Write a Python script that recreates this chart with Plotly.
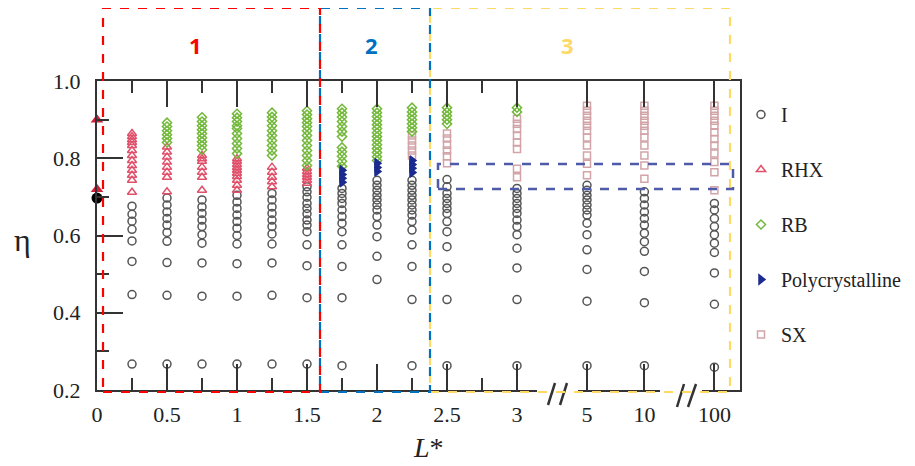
import plotly.graph_objects as go

# ---------------- data ----------------
# L* categories and their positions on the (broken) x axis
L_values = [0, 0.25, 0.5, 0.75, 1, 1.25, 1.5, 1.75, 2, 2.25, 2.5, 3, 5, 10, 100]
broken_pos = {5: 3.5, 10: 3.91, 100: 4.41}

x_tick_labels = ["0", "0.5", "1", "1.5", "2", "2.5", "3", "5", "10", "100"]
x_tick_L = [0, 0.5, 1, 1.5, 2, 2.5, 3, 5, 10, 100]
x_minor_L = [0.25, 0.75, 1.25, 1.75, 2.25, 2.75]
y_tick_vals = [0.2, 0.4, 0.6, 0.8, 1.0]
y_tick_labels = ["0.2", "0.4", "0.6", "0.8", "1.0"]
y_minor_vals = [0.3, 0.5, 0.7, 0.9]

I_eta = {
    0.25: [0.676, 0.655, 0.637, 0.616, 0.586, 0.533, 0.447, 0.267],
    0.5: [0.697, 0.679, 0.661, 0.644, 0.627, 0.608, 0.585, 0.530, 0.445, 0.267],
    0.75: [0.692, 0.674, 0.657, 0.640, 0.623, 0.602, 0.580, 0.529, 0.443, 0.267],
    1: [0.704, 0.687, 0.670, 0.653, 0.636, 0.619, 0.600, 0.578, 0.527, 0.443, 0.267],
    1.25: [0.709, 0.692, 0.674, 0.657, 0.640, 0.623, 0.604, 0.578, 0.529, 0.445, 0.267],
    1.5: [0.726, 0.713, 0.699, 0.683, 0.670, 0.656, 0.640, 0.627, 0.610, 0.576, 0.522, 0.439, 0.267],
    1.75: [0.722, 0.709, 0.696, 0.683, 0.666, 0.649, 0.632, 0.610, 0.576, 0.520, 0.439, 0.263],
    2: [0.743, 0.730, 0.717, 0.704, 0.692, 0.679, 0.666, 0.649, 0.627, 0.597, 0.546, 0.486],
    2.25: [0.743, 0.730, 0.717, 0.704, 0.692, 0.679, 0.666, 0.653, 0.636, 0.614, 0.576, 0.520, 0.434, 0.263],
    2.5: [0.745, 0.726, 0.709, 0.696, 0.683, 0.670, 0.657, 0.636, 0.610, 0.571, 0.516, 0.434, 0.263],
    3: [0.722, 0.709, 0.696, 0.683, 0.670, 0.657, 0.640, 0.623, 0.602, 0.567, 0.516, 0.434, 0.263],
    5: [0.730, 0.717, 0.704, 0.692, 0.679, 0.666, 0.653, 0.632, 0.602, 0.563, 0.512, 0.430, 0.263],
    10: [0.713, 0.696, 0.679, 0.661, 0.644, 0.627, 0.606, 0.584, 0.559, 0.507, 0.426, 0.263],
    100: [0.683, 0.666, 0.644, 0.623, 0.602, 0.580, 0.556, 0.503, 0.422, 0.259],
}

RHX_eta = {
    0.25: [0.864, 0.856, 0.848, 0.841, 0.833, 0.820, 0.807, 0.794, 0.781, 0.769, 0.756, 0.743, 0.712],
    0.5: [0.829, 0.816, 0.803, 0.790, 0.777, 0.764, 0.751, 0.713],
    0.75: [0.807, 0.799, 0.792, 0.777, 0.764, 0.751, 0.717],
    1: [0.799, 0.792, 0.784, 0.776, 0.769, 0.761, 0.753, 0.743, 0.730, 0.717],
    1.25: [0.777, 0.764, 0.751, 0.739, 0.726],
    1.5: [0.774, 0.766, 0.758, 0.751, 0.743, 0.735],
}

RB_eta = {
    0.5: [0.892, 0.882, 0.871, 0.861, 0.851, 0.841],
    0.75: [0.906, 0.895, 0.884, 0.874, 0.864, 0.853, 0.843, 0.833, 0.822],
    1: [0.915, 0.905, 0.895, 0.884, 0.877, 0.864, 0.851, 0.838, 0.825, 0.812],
    1.25: [0.918, 0.907, 0.897, 0.884, 0.871, 0.859, 0.846, 0.833, 0.820, 0.807],
    1.5: [0.923, 0.913, 0.902, 0.892, 0.882, 0.871, 0.859, 0.846, 0.833, 0.820, 0.807, 0.794, 0.781],
    1.75: [0.928, 0.918, 0.907, 0.895, 0.882, 0.869, 0.856, 0.828, 0.817, 0.805, 0.792, 0.779],
    2: [0.928, 0.918, 0.908, 0.897, 0.887, 0.877, 0.866, 0.856, 0.846, 0.835, 0.825, 0.815, 0.804, 0.794],
    2.25: [0.931, 0.920, 0.910, 0.900, 0.889, 0.879, 0.869],
    2.5: [0.931, 0.920, 0.910, 0.900, 0.889],
    3: [0.931, 0.920],
}

Poly_eta = {
    1.75: [0.769, 0.758, 0.748, 0.738],
    2: [0.787, 0.776, 0.766],
    2.25: [0.794, 0.784, 0.774, 0.763],
}

SX_eta = {
    2.25: [0.859, 0.846, 0.833, 0.820, 0.807],
    2.5: [0.864, 0.851, 0.835, 0.820, 0.805, 0.787],
    3: [0.902, 0.889, 0.876, 0.859, 0.841, 0.824, 0.773, 0.751],
    5: [0.936, 0.923, 0.910, 0.897, 0.884, 0.871, 0.854, 0.833, 0.807, 0.786, 0.756],
    10: [0.936, 0.923, 0.910, 0.897, 0.884, 0.871, 0.854, 0.833, 0.807, 0.781, 0.747],
    100: [0.936, 0.923, 0.910, 0.897, 0.884, 0.867, 0.850, 0.833, 0.812, 0.790, 0.764, 0.717],
}

# points sitting on the eta axis (L* = 0)
L0_RHX_eta = [0.90, 0.72]
L0_I_eta = [0.697]


# ---------------- helpers ----------------
def pos(L):
    return broken_pos.get(L, L)


def flatten(d):
    xs, ys = [], []
    for L, vals in d.items():
        for v in vals:
            xs.append(pos(L))
            ys.append(v)
    return xs, ys


# plot area in page pixels (for decorations only); page has an 8px body margin
OFF = 8
PL, PR, PT, PB = 97, 740, 81, 390
W, H = 915, 466


def fx(px):
    return (px - PL) / (PR - PL)


def fy(py):
    return (PB - py) / (PB - PT)


SERIF = "Liberation Serif, Times New Roman, Times, serif"

fig = go.Figure()

series = [
    ("I", I_eta, "circle-open", "#555555", 8, 1),
    ("RHX", RHX_eta, "triangle-up-open", "#E0506A", 8, 2),
    ("RB", RB_eta, "diamond-open", "#72B83A", 7, 3),
    ("Polycrystalline", Poly_eta, "triangle-right", "#1C2B8F", 8, 4),
    ("SX", SX_eta, "square-open", "#D2A4A8", 7, 5),
]
draw_order = [0, 4, 1, 2, 3]
for i in draw_order:
    name, d, sym, col, sz, rank = series[i]
    xs, ys = flatten(d)
    fig.add_trace(go.Scatter(
        x=xs, y=ys, mode="markers", name=name, legendgroup=name, legendrank=rank,
        marker=dict(symbol=sym, size=sz, color=col, line=dict(color=col, width=1.5)),
        cliponaxis=False,
    ))

fig.add_trace(go.Scatter(
    x=[pos(0)] * len(L0_RHX_eta), y=L0_RHX_eta, mode="markers", showlegend=False,
    marker=dict(symbol="triangle-up", size=11, color="#D0203A"), cliponaxis=False))
fig.add_trace(go.Scatter(
    x=[pos(0)] * len(L0_I_eta), y=L0_I_eta, mode="markers", showlegend=False,
    marker=dict(symbol="circle", size=11, color="#000000"), cliponaxis=False))

AXC = "#333333"
fig.update_xaxes(
    range=[0, (PR - PL) / 140.0],
    tickmode="array", tickvals=[pos(v) for v in x_tick_L], ticktext=x_tick_labels,
    ticks="inside", ticklen=26, tickwidth=2, tickcolor=AXC,
    minor=dict(tickmode="array", tickvals=[pos(v) for v in x_minor_L], ticks="inside",
               ticklen=12, tickwidth=2, tickcolor=AXC, showgrid=False),
    showline=True, linecolor=AXC, linewidth=2, mirror="ticks",
    showgrid=False, zeroline=False,
    tickfont=dict(family=SERIF, size=22, color="#222222"),
    ticklabelstandoff=4,
)
fig.update_yaxes(
    range=[0.2, 1.0],
    tickmode="array", tickvals=y_tick_vals, ticktext=y_tick_labels,
    ticks="inside", ticklen=26, tickwidth=2, tickcolor=AXC,
    minor=dict(tickmode="array", tickvals=y_minor_vals, ticks="inside",
               ticklen=12, tickwidth=2, tickcolor=AXC, showgrid=False),
    showline=True, linecolor=AXC, linewidth=2, mirror=True,
    showgrid=False, zeroline=False,
    tickfont=dict(family=SERIF, size=22, color="#222222"),
    ticklabelstandoff=10,
)

shapes = []
# axis breaks: white out the bottom line, then draw "//"
for a, b in [(537, 578), (660, 702)]:
    shapes.append(dict(type="rect", xref="paper", yref="paper",
                       x0=fx(a), x1=fx(b), y0=fy(395), y1=fy(386),
                       fillcolor="white", line=dict(width=0), layer="above"))
for (x0, y0, x1, y1) in [(548, 405, 555, 383), (560, 405, 567, 383),
                         (677, 407, 684, 384), (688, 407, 696, 384)]:
    shapes.append(dict(type="line", xref="paper", yref="paper",
                       x0=fx(x0), y0=fy(y0), x1=fx(x1), y1=fy(y1),
                       line=dict(color="#333333", width=2.5), layer="above"))


def box(x0, x1, y0, y1, color, width=2.2):
    return dict(type="rect", xref="paper", yref="paper",
                x0=fx(x0), x1=fx(x1), y0=fy(y1), y1=fy(y0),
                line=dict(color=color, width=width, dash="dash"),
                fillcolor="rgba(0,0,0,0)", layer="above")


shapes.append(box(430, 730, 8, 392, "#FFD966"))
shapes.append(box(320, 430, 8, 392, "#0070C0"))
shapes.append(box(103, 320, 8, 392, "#FF0000"))
shapes.append(box(438, 733, 164, 189, "#4F5AA8", 2.5))
fig.update_layout(shapes=shapes)

annotations = [
    dict(text="<b>1</b>", x=fx(195), y=fy(45), font=dict(family="Open Sans", size=22, color="#FF0000")),
    dict(text="<b>2</b>", x=fx(371), y=fy(45), font=dict(family="Open Sans", size=22, color="#0070C0")),
    dict(text="<b>3</b>", x=fx(567), y=fy(45), font=dict(family="Open Sans", size=22, color="#FFD966")),
    dict(text="<i>L</i>*", x=fx(428), y=fy(447), font=dict(family=SERIF, size=28, color="#222222")),
    dict(text="η", x=fx(22), y=fy(240), font=dict(family=SERIF, size=32, color="#222222")),
]
for a in annotations:
    a.update(xref="paper", yref="paper", showarrow=False, xanchor="center", yanchor="middle")
fig.update_layout(annotations=annotations)

fig.update_layout(
    width=W, height=H,
    margin=dict(l=PL - OFF, r=W - PR + OFF, t=PT - OFF, b=H - PB + OFF, pad=0),
    paper_bgcolor="white", plot_bgcolor="white",
    showlegend=True,
    legend=dict(x=fx(741), y=fy(95), xanchor="left", yanchor="top",
                font=dict(family=SERIF, size=20, color="#222222"),
                tracegroupgap=26, bgcolor="rgba(0,0,0,0)", traceorder="grouped"),
)

fig.write_html("out.html")
